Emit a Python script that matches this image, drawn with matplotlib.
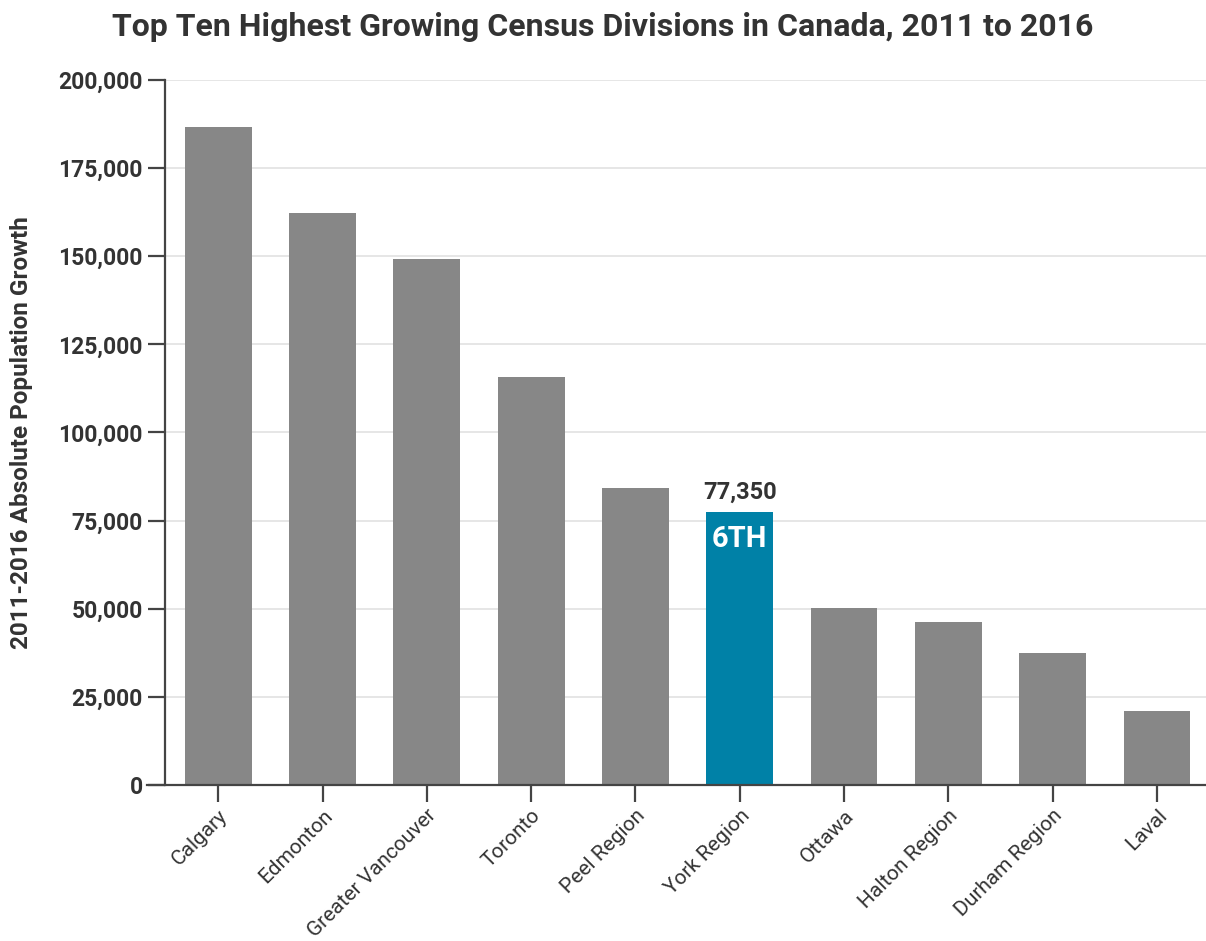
import numpy as np
import matplotlib
matplotlib.use("Agg")
import matplotlib.pyplot as plt

# census divisions, 2011-2016 absolute growth
divisions = ["Calgary", "Edmonton", "Greater Vancouver", "Toronto", "Peel Region",
             "York Region", "Ottawa", "Halton Region", "Durham Region", "Laval"]
growth = [186700, 162300, 149200, 115800, 84300, 77350, 50200, 46200, 37400, 21000]
highlight = 5  # York Region
y_ticks = [0, 25000, 50000, 75000, 100000, 125000, 150000, 175000, 200000]

plt.rcParams['font.family'] = ['Roboto', 'DejaVu Sans']
txt = '#333333'
grey = '#878787'
blue = '#0081a7'

fig = plt.figure(figsize=(12.06, 9.41), dpi=100)
ax = fig.add_axes([165/1206, 1-785/941, (1206-165)/1206, (785-80)/941])

x = np.arange(len(divisions))
cols = [blue if i == highlight else grey for i in x]
ax.bar(x, growth, width=0.64, color=cols, zorder=2)

ax.set_xlim(-0.51, 9.47)
ax.set_ylim(0, 200000)
ax.set_yticks(y_ticks)
ax.set_yticklabels([f"{v:,}" for v in y_ticks], fontsize=16.5, fontweight='bold', color=txt)
ax.set_xticks(x)
ax.set_xticklabels(divisions, rotation=45, ha='right', rotation_mode='anchor',
                   fontsize=15, color=txt)
ax.tick_params(axis='y', length=12, width=1.6, color='#444444', pad=4)
ax.tick_params(axis='x', length=12, width=1.6, color='#444444', pad=3)
ax.yaxis.grid(True, color='#e4e4e4', lw=1.3, zorder=0)
ax.set_axisbelow(True)

for s in ['top', 'right']:
    ax.spines[s].set_visible(False)
ax.spines['left'].set_color('#444444')
ax.spines['left'].set_linewidth(1.6)
ax.spines['bottom'].set_color('#444444')
ax.spines['bottom'].set_linewidth(1.6)
ax.spines['bottom'].set_bounds(-0.68, 9.47)

ax.set_ylabel("2011-2016 Absolute Population Growth", fontsize=17.5, fontweight='bold',
              color=txt)
ax.yaxis.set_label_coords(-0.127, 0.5)

# value and rank for the highlighted bar
v = growth[highlight]
ax.text(highlight, v + 2500, f"{v:,}", ha='center', va='bottom', fontsize=17,
        fontweight='bold', color=txt)
ax.text(highlight, v - 3500, "6TH", ha='center', va='top', fontsize=21,
        fontweight='bold', color='white')

fig.text(0.5, 1-27/941, "Top Ten Highest Growing Census Divisions in Canada, 2011 to 2016",
         ha='center', va='center', fontsize=23, fontweight='bold', color=txt)

fig.savefig("out.png", dpi=100, facecolor='white')
